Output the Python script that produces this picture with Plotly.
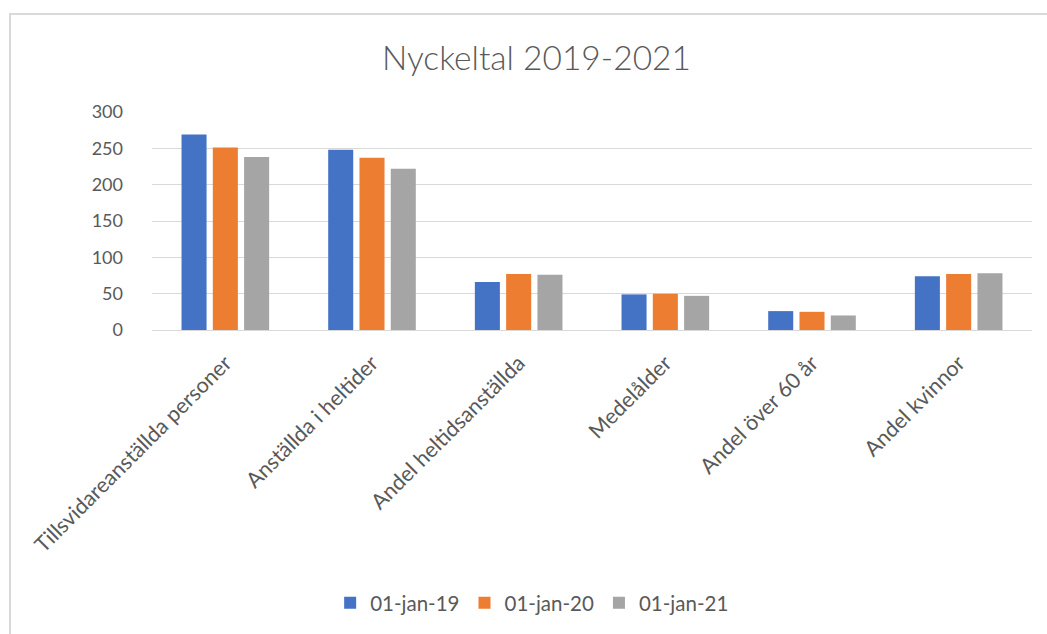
import plotly.graph_objects as go

categories = ["Tillsvidareanställda personer", "Anställda i heltider", "Andel heltidsanställda",
              "Medelålder", "Andel över 60 år", "Andel kvinnor"]
series_names = ["01-jan-19", "01-jan-20", "01-jan-21"]
values_2019 = [269, 248, 66, 49, 26, 74]
values_2020 = [251, 237, 77, 50, 25, 77]
values_2021 = [238, 222, 76, 47, 20, 78]
colors = ["#4472C4", "#ED7D31", "#A5A5A5"]
y_ticks = [0, 50, 100, 150, 200, 250, 300]

W, H = 1047, 634
L, R, T, B = 152, 15, 112, 304
pw, ph = W - L - R, H - T - B

def px_x(x):
    return (x - L) / pw

def px_y(y):
    return (H - B - y) / ph

fig = go.Figure()
for name, vals, col in zip(series_names, [values_2019, values_2020, values_2021], colors):
    fig.add_trace(go.Bar(name=name, x=categories, y=vals, marker_color=col,
                         marker_line_width=0))

font_family = "Lato, 'Open Sans', sans-serif"
fig.update_layout(
    width=W, height=H,
    margin=dict(l=L, r=R, t=T, b=B, pad=0, autoexpand=False),
    paper_bgcolor="white", plot_bgcolor="white",
    barmode="group", bargap=0.36, bargroupgap=0.2,
    font=dict(family=font_family, color="#595959", size=18),
    title=dict(text="Nyckeltal 2019-2021", x=536.5 / W, xref="container", xanchor="center",
               y=1 - 58 / H, yanchor="middle",
               font=dict(family=font_family, size=33.5, color="#595959", weight=300)),
    showlegend=True,
    legend=dict(orientation="h", x=0.432, xanchor="center", y=px_y(603), yanchor="middle",
                font=dict(size=20.5, color="#595959"), itemsizing="constant",
                traceorder="normal", itemwidth=30),
    xaxis=dict(tickangle=-45, showgrid=False, showline=True, linecolor="#D9D9D9", linewidth=1,
               ticks="outside", ticklen=11, tickcolor="rgba(0,0,0,0)",
               tickfont=dict(size=21.5, color="#595959"), automargin=False),
    yaxis=dict(range=[0, 300], tickvals=y_ticks, showgrid=True, gridcolor="#D9D9D9",
               gridwidth=1, zeroline=False, showline=False, ticks="", automargin=False,
               tickfont=dict(size=18, color="#595959"), ticklabelstandoff=28),
    shapes=[dict(type="rect", xref="paper", yref="paper",
                 x0=px_x(10), x1=px_x(1060), y0=px_y(650), y1=px_y(14),
                 line=dict(color="#D9D9D9", width=2), fillcolor="rgba(0,0,0,0)", layer="below")],
)

fig.write_html("out.html", config={"displayModeBar": False},
               post_script="document.body.style.margin='0';document.body.style.overflow='hidden';")
